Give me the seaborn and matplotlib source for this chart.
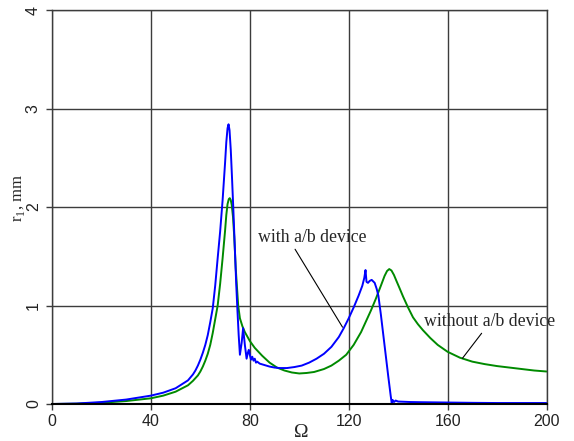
import numpy as np
import pandas as pd
import seaborn as sns
import matplotlib
matplotlib.use("Agg")
import matplotlib.pyplot as plt

# Response amplitude r1 (mm) versus rotor speed Omega
omega_with = [0, 10, 20, 30, 40, 45, 50, 55, 56, 57, 58, 59, 60, 61, 62, 63, 64, 65,
              66, 67, 68, 69, 70, 70.5, 71, 71.4, 71.8, 72.3, 72.8, 73.3, 74, 74.5,
              75, 75.5, 76, 76.7, 77.3, 78, 78.7, 79.2, 79.6, 80, 80.5, 81, 81.5, 82,
              82.5, 83, 84, 86, 88, 90, 92, 95, 98, 101, 104, 107, 110, 113, 116,
              118, 120, 122, 124, 125.5, 126.3, 126.8, 127.2, 127.8, 128.5, 129.3,
              130.5, 131.3, 132, 133, 134, 135, 136, 137, 137.4, 137.8, 138.3, 139,
              140, 145, 150, 160, 170, 180, 190, 200]
r_with = [0, 0.005, 0.02, 0.045, 0.085, 0.115, 0.16, 0.24, 0.27, 0.3, 0.34, 0.39,
          0.45, 0.52, 0.6, 0.7, 0.83, 0.97, 1.2, 1.48, 1.75, 2.07, 2.45, 2.66, 2.8,
          2.84, 2.78, 2.58, 2.3, 2.0, 1.55, 1.22, 0.95, 0.7, 0.5, 0.62, 0.77, 0.6,
          0.46, 0.52, 0.55, 0.5, 0.45, 0.48, 0.44, 0.46, 0.42, 0.43, 0.41, 0.395,
          0.38, 0.37, 0.365, 0.365, 0.375, 0.39, 0.42, 0.46, 0.51, 0.58, 0.68, 0.77,
          0.87, 0.98, 1.1, 1.2, 1.28, 1.36, 1.24, 1.23, 1.25, 1.26, 1.23, 1.17, 1.10,
          0.91, 0.70, 0.49, 0.28, 0.08, 0.01, 0.04, 0.02, 0.035, 0.025, 0.02, 0.018,
          0.015, 0.012, 0.01, 0.01, 0.01]

omega_without = [0, 10, 20, 30, 40, 45, 50, 55, 57, 59, 60, 61, 62, 63, 64, 65, 66,
                 67, 68, 69, 70, 70.5, 71, 71.5, 71.9, 72.3, 72.7, 73.2, 73.7, 74.3,
                 75.3, 76, 77, 78, 80, 82, 85, 88, 91, 94, 97, 100, 103, 106, 110,
                 113, 116, 119, 122, 125, 127, 129, 131, 133, 134.5, 135.5, 136.4,
                 137.3, 138.3, 139.3, 140.5, 142, 144, 146, 148, 150, 153, 156, 160,
                 165, 170, 175, 180, 185, 190, 195, 200]
r_without = [0, 0.003, 0.013, 0.03, 0.058, 0.085, 0.125, 0.19, 0.235, 0.29, 0.33,
             0.38, 0.44, 0.51, 0.6, 0.72, 0.86, 1.0, 1.22, 1.48, 1.76, 1.92, 2.03,
             2.08, 2.09, 2.07, 2.02, 1.9, 1.7, 1.38, 1.0, 0.87, 0.79, 0.73, 0.64,
             0.57, 0.49, 0.42, 0.37, 0.34, 0.32, 0.31, 0.315, 0.325, 0.355, 0.39,
             0.44, 0.5, 0.6, 0.73, 0.84, 0.95, 1.07, 1.2, 1.3, 1.35, 1.37, 1.355,
             1.31, 1.25, 1.18, 1.09, 0.98, 0.88, 0.81, 0.75, 0.67, 0.6, 0.53, 0.47,
             0.43, 0.405, 0.385, 0.37, 0.355, 0.34, 0.33]

x_ticks = [0, 40, 80, 120, 160, 200]
y_ticks = [0, 1, 2, 3, 4]

df = pd.concat([
    pd.DataFrame({"omega": omega_with, "r1": r_with, "case": "with"}),
    pd.DataFrame({"omega": omega_without, "r1": r_without, "case": "without"}),
])

sns.set_theme(style="white")
plt.rcParams["font.family"] = ["Liberation Sans", "DejaVu Sans"]

fig = plt.figure(figsize=(5.74, 4.41), dpi=100)
ax = fig.add_axes([0.0906, 0.0839, 0.8615, 0.8934])

sns.lineplot(data=df, x="omega", y="r1", hue="case",
             palette={"with": "#0000ff", "without": "#008a00"},
             hue_order=["without", "with"],
             estimator=None, sort=False, linewidth=1.4, legend=False, ax=ax)

ax.set_xlim(0, 200)
ax.set_ylim(0, 4)
ax.set_xticks(x_ticks)
ax.set_yticks(y_ticks)
ax.grid(True, color="#3c3c3c", linewidth=1.0)
ax.set_axisbelow(True)
for side in ["top", "right", "left"]:
    ax.spines[side].set_color("#3c3c3c")
    ax.spines[side].set_linewidth(1.0)
ax.spines["bottom"].set_color("black")
ax.spines["bottom"].set_linewidth(1.5)

ax.tick_params(axis="both", direction="out", length=4, width=1, color="#3c3c3c",
               labelsize=11.5, labelcolor="#222222", bottom=True, left=True)
ax.tick_params(axis="x", pad=3)
ax.tick_params(axis="y", pad=4, labelrotation=90)
for lbl in ax.get_yticklabels():
    lbl.set_va("center")
    lbl.set_ha("right")

serif = ["Liberation Serif", "DejaVu Serif"]
ax.set_xlabel("\u03a9", family=serif, fontsize=14)
ax.xaxis.set_label_coords(0.5045, -0.052)
ax.xaxis.label.set_va("top")
ax.set_ylabel(r"r$_\mathregular{1}$, mm", family=serif, fontsize=12)
ax.yaxis.label.set_va("center")
ax.yaxis.set_label_coords(-0.066, 0.523)

ax.annotate("with a/b device", xy=(117.5, 0.78), xytext=(105.4, 1.645),
            ha="center", va="baseline", family=serif, fontsize=12.8,
            arrowprops=dict(arrowstyle="-", color="black", lw=0.8,
                            shrinkA=0, shrinkB=0,
                            relpos=(0.32, 0.0)),
            annotation_clip=False)
ax.annotate("without a/b device", xy=(166, 0.464), xytext=(176.9, 0.792),
            ha="center", va="baseline", family=serif, fontsize=12.8,
            arrowprops=dict(arrowstyle="-", color="black", lw=0.8,
                            shrinkA=0, shrinkB=0,
                            relpos=(0.46, 0.0)),
            annotation_clip=False)

fig.savefig("out.png", dpi=100)
